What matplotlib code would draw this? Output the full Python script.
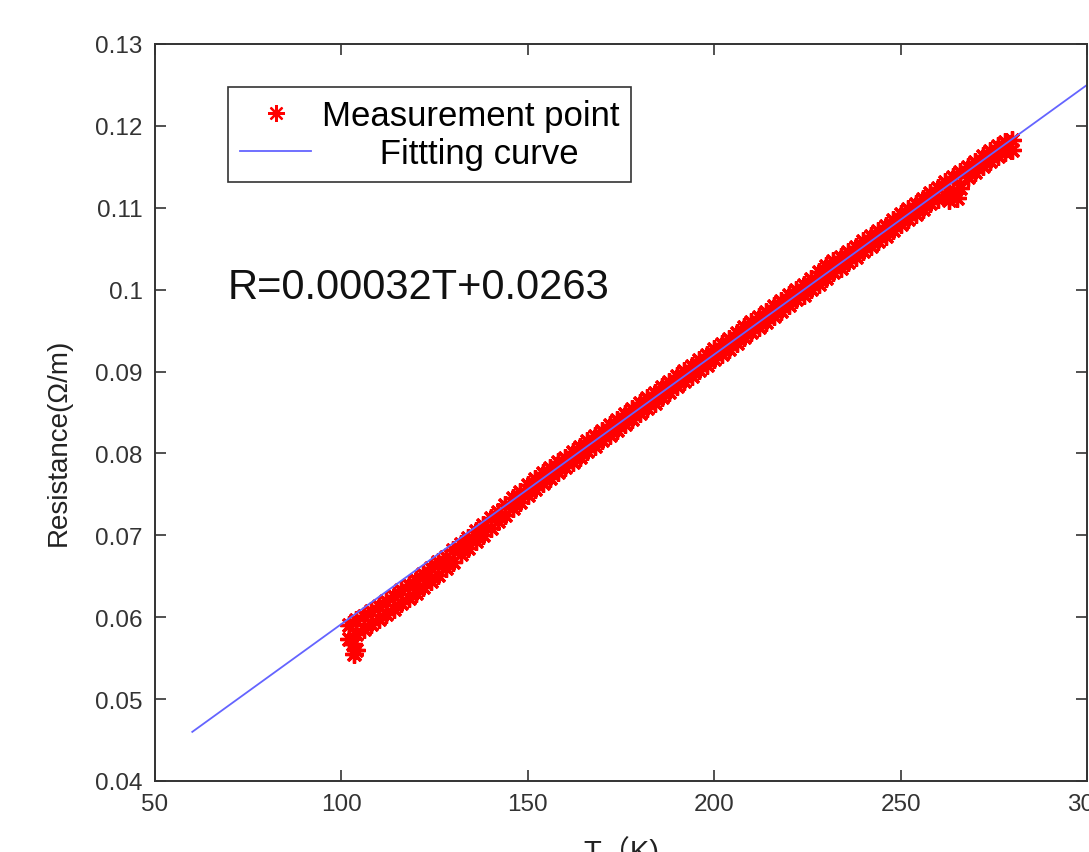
import matplotlib
matplotlib.use("Agg")
import matplotlib.pyplot as plt

# measured temperature grid (K) and band readings (ohm/m)
t_meas = [102, 104, 106, 108, 110, 112, 114, 116, 118, 120,
          122, 124, 126, 128, 130, 132, 134, 136, 138, 140,
          142, 144, 146, 148, 150, 152, 154, 156, 158, 160,
          162, 164, 166, 168, 170, 172, 174, 176, 178, 180,
          182, 184, 186, 188, 190, 192, 194, 196, 198, 200,
          202, 204, 206, 208, 210, 212, 214, 216, 218, 220,
          222, 224, 226, 228, 230, 232, 234, 236, 238, 240,
          242, 244, 246, 248, 250, 252, 254, 256, 258, 260,
          262, 264, 266, 268, 270, 272, 274, 276, 278, 280]

r_upper = [.0590, .0596, .0602, .0608, .0614, .0620, .0626, .0633, .0639, .0646,
           .0653, .0660, .0667, .0674, .0682, .0689, .0697, .0705, .0713, .0721,
           .0729, .0737, .0745, .0753, .0761, .0769, .0776, .0782, .0789, .0795,
           .0802, .0808, .0815, .0821, .0828, .0835, .0841, .0848, .0854, .0861,
           .0868, .0874, .0881, .0887, .0894, .0901, .0907, .0914, .0920, .0927,
           .0934, .0940, .0947, .0954, .0960, .0967, .0973, .0980, .0986, .0993,
           .1000, .1006, .1013, .1021, .1029, .1035, .1040, .1046, .1052, .1059,
           .1065, .1072, .1078, .1085, .1092, .1098, .1105, .1111, .1118, .1124,
           .1131, .1137, .1144, .1150, .1156, .1163, .1169, .1175, .1180, .1183]

r_lower = [.0574, .0580, .0586, .0592, .0598, .0604, .0610, .0617, .0623, .0630,
           .0637, .0644, .0651, .0660, .0668, .0677, .0685, .0693, .0701, .0709,
           .0717, .0725, .0733, .0741, .0749, .0757, .0764, .0770, .0777, .0783,
           .0790, .0796, .0803, .0809, .0816, .0823, .0829, .0836, .0842, .0849,
           .0856, .0862, .0869, .0875, .0882, .0889, .0895, .0902, .0908, .0915,
           .0922, .0928, .0935, .0942, .0948, .0955, .0961, .0968, .0974, .0981,
           .0988, .0994, .1001, .1007, .1014, .1021, .1027, .1034, .1040, .1047,
           .1053, .1060, .1066, .1073, .1080, .1086, .1093, .1099, .1106, .1111,
           .1116, .1117, .1124, .1137, .1144, .1151, .1157, .1163, .1168, .1171]

# stray readings (cold-end hook, dip near 265 K)
t_extra = [103, 104, 103.5, 265, 263]
r_extra = [0.0567, 0.0560, 0.0555, 0.1112, 0.1110]

# fitted line end points
t_fit = [60, 300]
r_fit = [0.046, 0.125]

x_ticks = [50, 100, 150, 200, 250, 300]
y_ticks = [0.04, 0.05, 0.06, 0.07, 0.08, 0.09, 0.1, 0.11, 0.12, 0.13]
y_ticklabels = ["0.04", "0.05", "0.06", "0.07", "0.08", "0.09", "0.1", "0.11", "0.12", "0.13"]

plt.rcParams['font.family'] = ['Liberation Sans', 'Noto Sans CJK SC', 'DejaVu Sans']

fig = plt.figure(figsize=(10.89, 8.53), dpi=100)
ax = fig.add_axes([155 / 1089, 1 - 782 / 853, 932 / 1089, 737 / 853])

star = (8, 2, 0)
mkw = dict(linestyle='none', marker=star, ms=13, mew=2.4, color='#ff0000')
ax.plot(t_meas, r_upper, label='Measurement point', **mkw)
ax.plot(t_meas, r_lower, **mkw)
ax.plot(t_extra, r_extra, **mkw)
ax.plot(t_fit, r_fit, color='#6464ff', lw=1.3, label='      Fittting curve')

ax.set_xlim(50, 300)
ax.set_ylim(0.04, 0.13)
ax.set_xticks(x_ticks)
ax.set_yticks(y_ticks)
ax.set_yticklabels(y_ticklabels)
ax.tick_params(direction='in', length=8, width=1.2, top=True, right=True,
               labelsize=17.5, colors='#333333', pad=9)
for sp in ax.spines.values():
    sp.set_linewidth(1.4)
    sp.set_color('#333333')

ax.set_xlabel('T（K)', fontsize=21, color='#222222', labelpad=14)
ax.set_ylabel('Resistance(Ω/m)', fontsize=20, color='#222222')
ax.yaxis.set_label_coords(-0.089, 0.461)

ax.text(69.6, 0.1003, 'R=0.00032T+0.0263', fontsize=30, color='#111111',
        ha='left', va='center')

leg = ax.legend(loc='upper left', bbox_to_anchor=(0.0783, 0.9417), borderaxespad=0,
                fontsize=25, numpoints=1, handlelength=2.05, handletextpad=0.3,
                labelspacing=0.15, borderpad=0.35, fancybox=False, framealpha=1)
leg.get_frame().set_edgecolor('#333333')
leg.get_frame().set_linewidth(1.2)
for h in leg.legend_handles[:1]:
    h.set_markersize(12)
    h.set_markeredgewidth(1.6)

fig.savefig('out.png', dpi=100)
